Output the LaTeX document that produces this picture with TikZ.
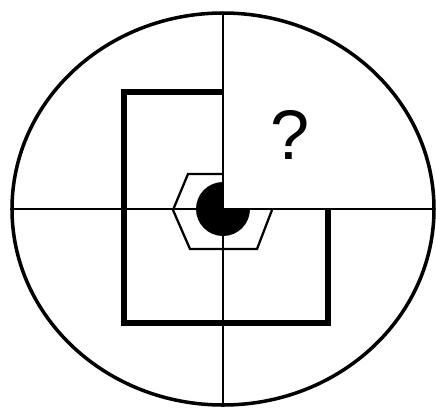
\documentclass[tikz,border=0pt]{standalone}
\usepackage{fontspec}
\setsansfont{Liberation Sans}
\begin{document}
\begin{tikzpicture}[x=0.02cm,y=0.02cm,
    frame/.style={line width=2.9pt,line join=miter},
    hexline/.style={line width=1.3pt,line join=miter}]
      \def\Rx{211}
      \def\Ry{196}
      \def\r{27}
      \useasboundingbox (-223,-205) rectangle (213,209);
      \coordinate (O) at (0,0);
      \coordinate (L) at (-\Rx,0);
      \coordinate (Rt) at (\Rx,0);
      \coordinate (T) at (0,\Ry);
      \coordinate (B) at (0,-\Ry);
      
      % CIRCLE AND CROSS
      \draw[line width=2pt] (O) ellipse [x radius=\Rx, y radius=\Ry];
      \draw[line width=1.6pt] (L) -- (Rt);
      \draw[line width=1.6pt] (T) -- (B);
      
      % FRAME
      \draw[frame] (0,117) -- (-99,117) -- (-99,-114) -- (105,-114) -- (105,0);
      
      % HEXAGON
      \draw[hexline] (0,35) -- (-35,35) -- (-50,-1) -- (-33,-40) -- (34,-40) -- (49,-1);
      
      % DISK
      \fill (O) -- (90:\r) arc[start angle=90, end angle=360, radius=\r] -- cycle;
      \node (q) at (67,74) {\fontsize{40}{46}\selectfont\sffamily ?};
    \end{tikzpicture}
\end{document}
